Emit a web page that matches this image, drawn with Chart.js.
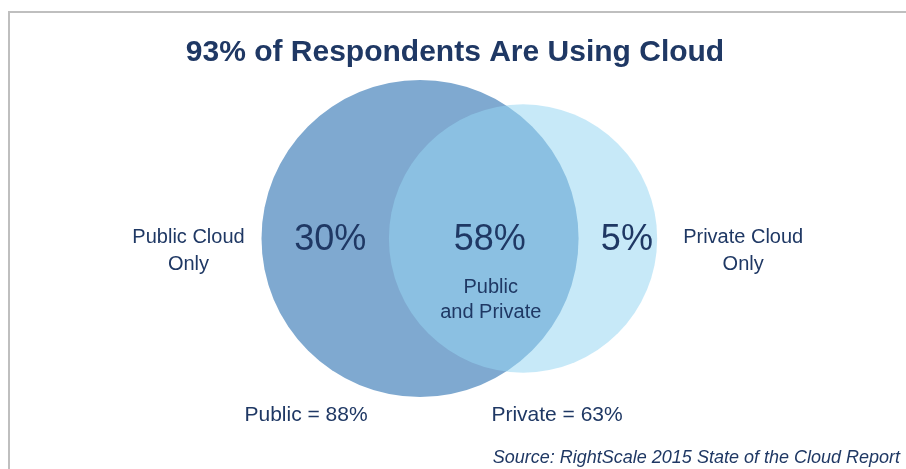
<!DOCTYPE html>
<html>
<head>
<meta charset="utf-8">
<script src="https://cdn.jsdelivr.net/npm/chart.js@4"></script>
<style>
  body { margin: 0; background: #fff; }
  #wrap { position: relative; width: 906px; height: 469px; }
  #frame { position: absolute; left: 8px; top: 11px; right: 0; bottom: 0;
           border-left: 2px solid #bfbfbf; border-top: 2px solid #bfbfbf; pointer-events: none; }
</style>
</head>
<body>
<div id="wrap">
  <canvas id="venn" width="906" height="469"></canvas>
  <div id="frame"></div>
</div>
<script>
// Venn: public vs private cloud usage
const setNames = ['Public', 'Private'];
const setTotals = [88, 63];               // % using each kind
const regionValues = [30, 58, 5];         // public only, both, private only
const regionNames = ['Public Cloud\nOnly', 'Public\nand Private', 'Private Cloud\nOnly'];
const setColors = ['#7fa9d0', 'rgba(150, 214, 241, 0.53)'];

const navy = '#1f3864';
const fontFam = '"Liberation Sans", Arial, sans-serif';
const radiusScale = 16.9;  // px per sqrt(%)

function drawLines(ctx, text, x, y, gap) {
    text.split('\n').forEach((line, i) => ctx.fillText(line, x, y + i * gap));
}

const vennLabels = {
    id: 'vennLabels',
    afterDatasetsDraw(chart) {
        const ctx = chart.ctx;
        const [pub, pri] = chart.getDatasetMeta(0).data;
        const r1 = pub.options.radius, r2 = pri.options.radius;
        const cy = pub.y;
        const pubL = pub.x - r1, pubR = pub.x + r1;
        const priL = pri.x - r2, priR = pri.x + r2;

        ctx.save();
        ctx.fillStyle = navy;
        ctx.textAlign = 'center';
        ctx.textBaseline = 'alphabetic';

        // title
        ctx.font = 'bold 30px ' + fontFam;
        ctx.fillText('93% of Respondents Are Using Cloud', 455, 61);

        // region percentages
        ctx.font = '36px ' + fontFam;
        const xs = [(pubL + priL) / 2 + 5, (priL + pubR) / 2 + 6, (pubR + priR) / 2 + 9];
        regionValues.forEach((v, i) => ctx.fillText(v + '%', xs[i], cy + 11.5));

        // region names
        ctx.font = '20px ' + fontFam;
        drawLines(ctx, regionNames[0], pubL - 73, cy + 4.5, 27);
        drawLines(ctx, regionNames[1], xs[1] + 1, cy + 54.5, 25);
        drawLines(ctx, regionNames[2], priR + 86, cy + 4.5, 27);

        // set totals
        ctx.font = '21px ' + fontFam;
        ctx.fillText(setNames[0] + ' = ' + setTotals[0] + '%', pub.x - 114, cy + 182.5);
        ctx.fillText(setNames[1] + ' = ' + setTotals[1] + '%', pri.x + 34, cy + 182.5);

        // source
        ctx.font = 'italic 18px ' + fontFam;
        ctx.textAlign = 'right';
        ctx.fillText('Source: RightScale 2015 State of the Cloud Report', 900, 463);
        ctx.restore();
    }
};

new Chart(document.getElementById('venn'), {
    type: 'bubble',
    data: {
        labels: setNames,
        datasets: [{
            data: setTotals.map((t, i) => ({ x: i, y: 0, r: radiusScale * Math.sqrt(t) })),
            backgroundColor: setColors,
            borderWidth: 0,
            hoverBorderWidth: 0
        }]
    },
    options: {
        responsive: false,
        animation: false,
        layout: { padding: 0, autoPadding: false },
        clip: false,
        scales: {
            x: { display: false, min: -4.078, max: 4.718 },
            y: { display: false, min: -1, max: 1.0346 }
        },
        plugins: {
            legend: { display: false },
            tooltip: { enabled: false }
        }
    },
    plugins: [vennLabels]
});
</script>
</body>
</html>
